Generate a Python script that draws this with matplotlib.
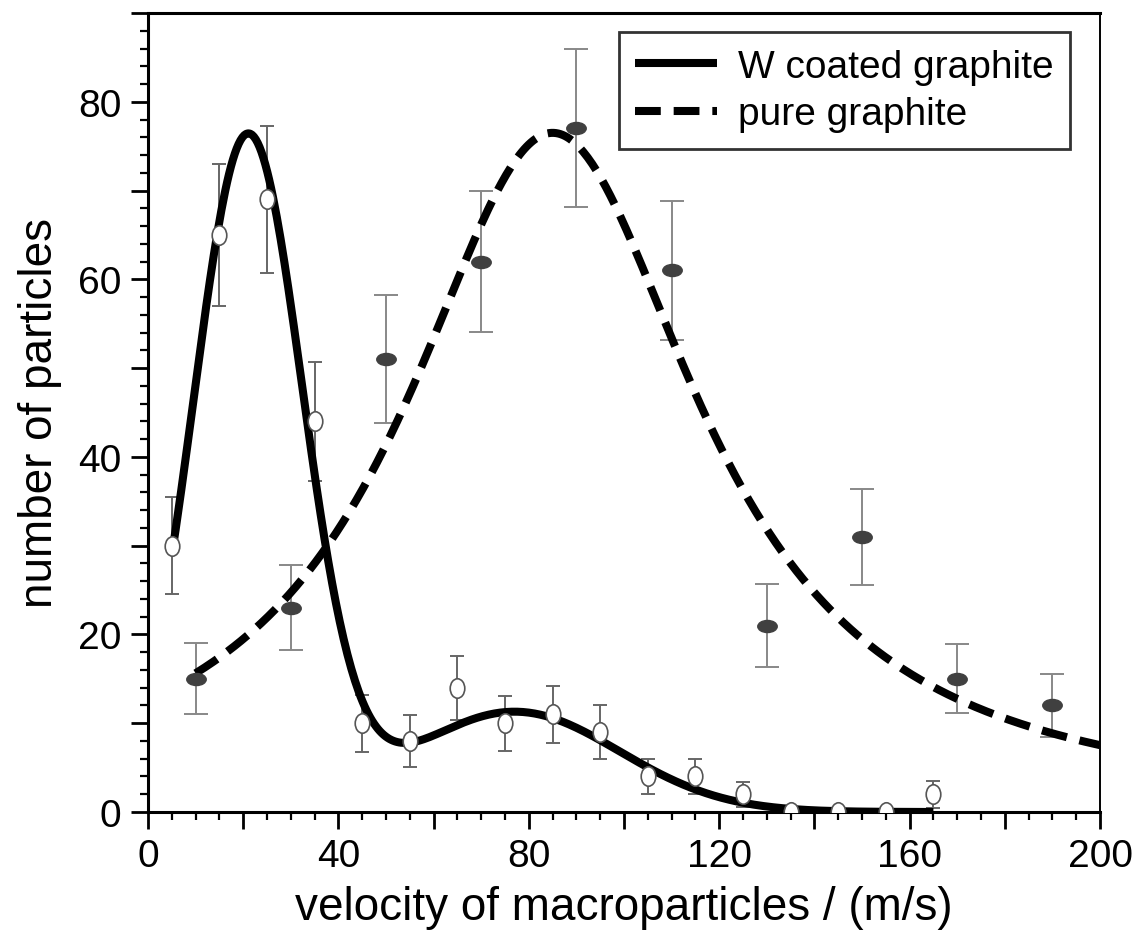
import numpy as np
import matplotlib
matplotlib.use("Agg")
import matplotlib.pyplot as plt
from matplotlib.path import Path
from matplotlib.transforms import Affine2D
from matplotlib.ticker import MultipleLocator, FuncFormatter

# ---- data ----
w_x = [5, 15, 25, 35, 45, 55, 65, 75, 85, 95, 105, 115, 125, 135, 145, 155, 165]
w_y = [30, 65, 69, 44, 10, 8, 14, 10, 11, 9, 4, 4, 2, 0, 0, 0, 2]
w_err = [5.5, 8, 8.3, 6.7, 3.2, 2.9, 3.6, 3.1, 3.2, 3.0, 2.0, 2.0, 1.4, 0, 0, 0, 1.5]

g_x = [10, 30, 50, 70, 90, 110, 130, 150, 170, 190]
g_y = [15, 23, 51, 62, 77, 61, 21, 31, 15, 12]
g_err = [4, 4.8, 7.2, 7.9, 8.9, 7.8, 4.7, 5.4, 3.9, 3.5]

# fitted curves (parameters estimated from the drawn fit lines)
w_fit_gauss = [(76.0, 21.0, 11.5), (11.3, 77.0, 22.0)]   # amplitude, centre, sigma
w_fit_range = (5, 165)
g_fit_lorentz = (76.5, 85.0, 38.0)                      # amplitude, centre, half width
g_fit_range = (10, 200)

labels = ["W coated graphite", "pure graphite"]

FONT = "Liberation Sans"
plt.rcParams['font.family'] = [FONT, 'DejaVu Sans']

fig = plt.figure(figsize=(11.42, 9.45), dpi=100)
ax = fig.add_axes([148 / 1142, 1 - 813 / 945, (1100 - 148) / 1142, (813 - 14) / 945])

# fit lines
xw = np.linspace(*w_fit_range, 400)
yw = sum(a * np.exp(-(xw - m) ** 2 / (2 * s ** 2)) for a, m, s in w_fit_gauss)
xg = np.linspace(*g_fit_range, 400)
A, x0, gam = g_fit_lorentz
yg = A / (1 + ((xg - x0) / gam) ** 2)

ax.plot(xw, yw, color='black', lw=5.8, solid_capstyle='butt', zorder=3, label=labels[0])
ax.plot(xg, yg, color='black', lw=5.8, linestyle=(0, (3.2, 1.6)), dash_capstyle='butt',
        zorder=3, label=labels[1])

# markers
circ = Path.unit_circle()
tall = circ.transformed(Affine2D().scale(0.75, 1.0))
wide = circ.transformed(Affine2D().scale(1.0, 0.62))

ax.errorbar(w_x, w_y, yerr=w_err, fmt='none', ecolor='#666666', elinewidth=1.4,
            capsize=5, capthick=1.4, zorder=2)
ax.plot(w_x, w_y, linestyle='none', marker=tall, markersize=14, markerfacecolor='white',
        markeredgecolor='#555555', markeredgewidth=1.2, zorder=4)

ax.errorbar(g_x, g_y, yerr=g_err, fmt='none', ecolor='#888888', elinewidth=1.4,
            capsize=8.5, capthick=1.4, zorder=2)
ax.plot(g_x, g_y, linestyle='none', marker=wide, markersize=14, markerfacecolor='#404040',
        markeredgecolor='#404040', zorder=4)

ax.set_xlim(0, 200)
ax.set_ylim(0, 90)

ax.xaxis.set_major_locator(MultipleLocator(20))
ax.xaxis.set_minor_locator(MultipleLocator(5))
ax.yaxis.set_major_locator(MultipleLocator(10))
ax.yaxis.set_minor_locator(MultipleLocator(2))
ax.xaxis.set_major_formatter(FuncFormatter(lambda v, p: f"{int(round(v))}" if round(v) % 40 == 0 else ""))
ax.yaxis.set_major_formatter(FuncFormatter(lambda v, p: f"{int(round(v))}" if round(v) % 20 == 0 else ""))

ax.tick_params(which='major', direction='out', length=12, width=2.0, labelsize=28, pad=7,
               colors='black')
ax.tick_params(which='minor', direction='out', length=6, width=1.6)

for side in ['left', 'bottom', 'top']:
    ax.spines[side].set_linewidth(2.2)
ax.spines['right'].set_linewidth(1.4)

ax.set_xlabel("velocity of macroparticles / (m/s)", fontsize=33, labelpad=8)
ax.set_ylabel("number of particles", fontsize=33, labelpad=12)

leg = ax.legend(loc='upper right', bbox_to_anchor=(0.9685, 0.976), borderaxespad=0,
                fontsize=28, frameon=True, fancybox=False, handlelength=2.1,
                handletextpad=0.55, borderpad=0.42, labelspacing=0.3)
leg.get_frame().set_edgecolor('black')
leg.get_frame().set_linewidth(2.0)

fig.savefig("out.png", dpi=100)
